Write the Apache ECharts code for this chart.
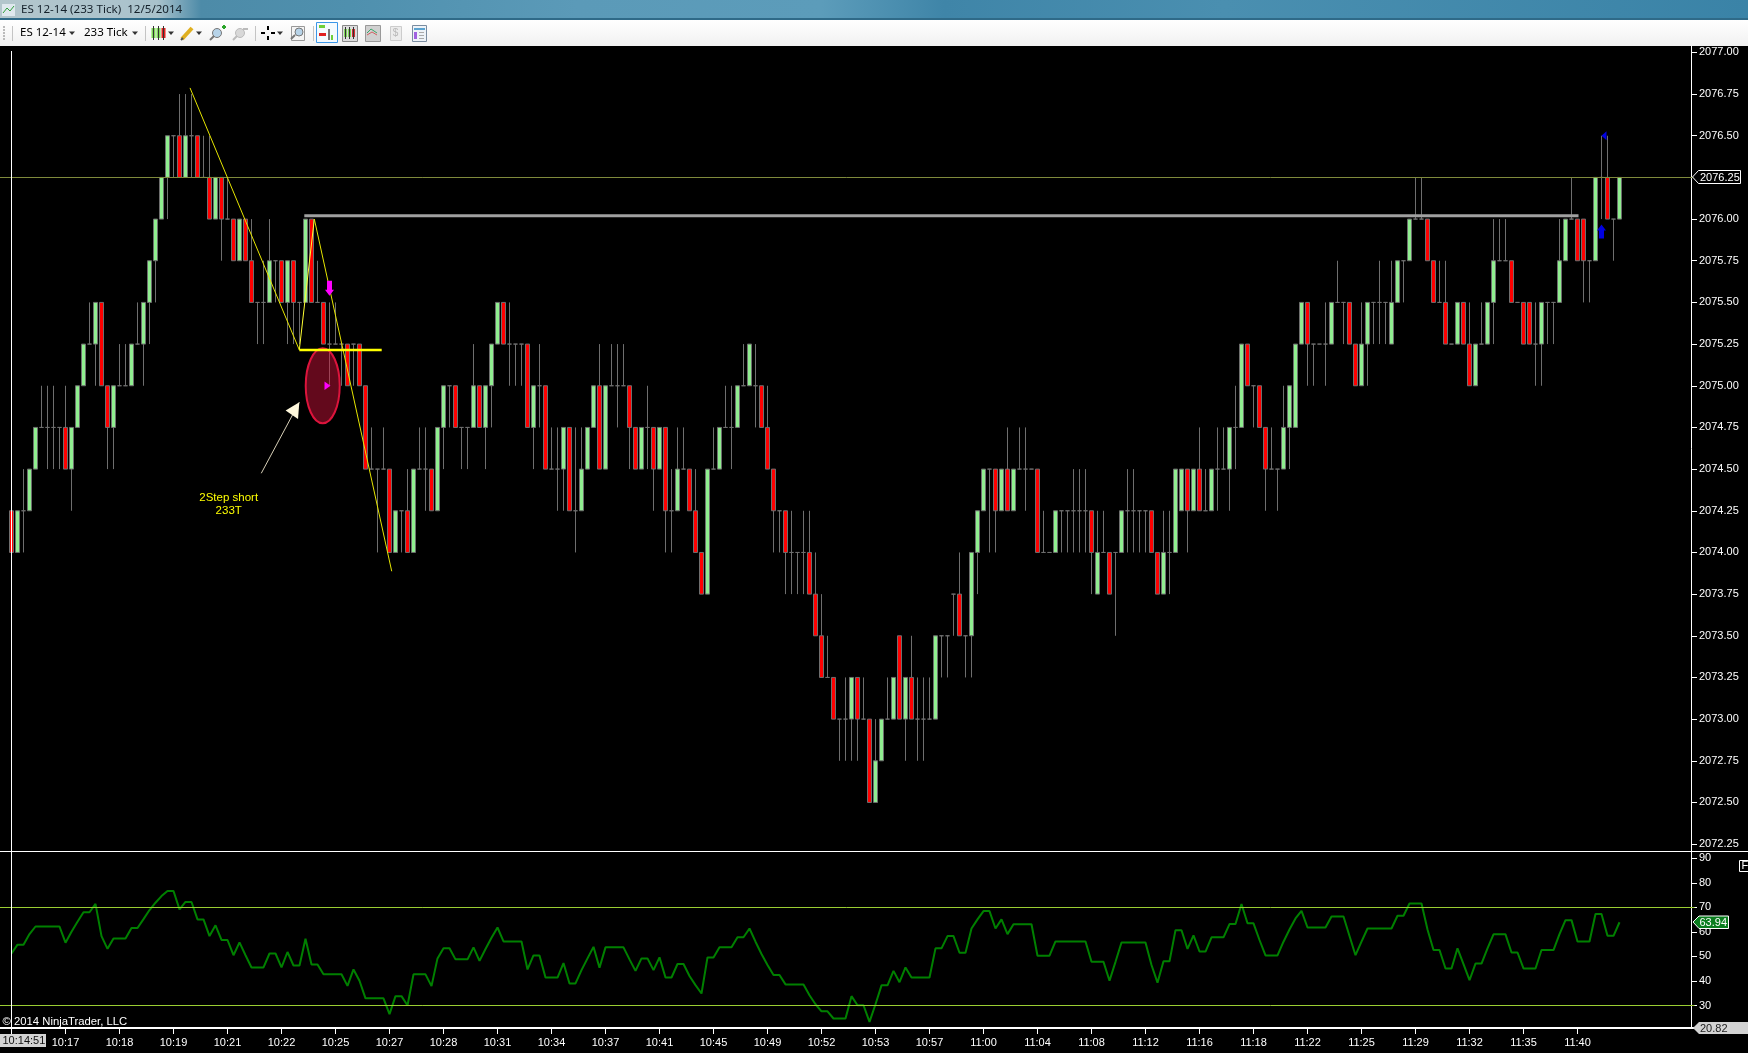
<!DOCTYPE html>
<html>
<head>
<meta charset="utf-8">
<style>html,body{margin:0;padding:0;background:#000;overflow:hidden}#c{width:1748px;height:1053px}</style>
<script src="https://cdn.jsdelivr.net/npm/echarts@6/dist/echarts.min.js"></script>
</head>
<body>
<div id="c"></div>
<script>
// Price is stored as tick levels below the reference price (one tick = 0.25 points).
const referencePrice = 2076, tickSize = 0.25;
const openTicks = [
7,8,7,7,6,5,5,5,5,5, 6,5,4,3,3,2,4,5,4,4, 4,3,3,2,1,0,-1,-2,-2,-1, -2,-2,-1,-1,0,-1,0,0,1,0,
1,2,2,2,1,1,2,1,2,2, 0,2,2,3,3,3,3,3,3,4, 6,6,6,6,8,7,7,8,6,6, 6,7,5,4,4,5,5,5,4,5,
4,3,2,3,3,3,3,5,4,4, 6,6,6,5,7,7,6,5,4,6, 4,4,4,4,5,6,5,5,6,5, 7,7,6,6,7,8,9,6,6,5,
5,5,4,4,4,4,5,6,7,7, 8,8,8,8,9,10,11,11,12,12, 12,11,12,12,14,13,12,12,10,12, 11,12,12,12,12,10,10,9,9,10,
10,8,7,6,6,7,6,7,6,6, 6,6,8,8,8,7,7,7,7,7, 7,9,8,8,8,8,7,7,7,7, 7,8,9,8,8,7,6,7,6,7,
7,6,6,6,5,5,3,4,4,5, 6,6,6,5,5,3,2,3,3,3, 3,2,2,2,3,4,3,2,2,2, 3,2,1,1,0,0,0,1,2,2,
3,3,2,3,4,3,3,2,1,1, 1,2,2,2,3,3,2,2,2,1, 0,0,0,1,1,-1,-1,0,0];
const closeTicks = [
8,7,7,6,5,5,5,5,5,6, 5,4,3,3,2,4,5,4,4,4, 3,3,2,1,0,-1,-2,-2,-1,-2, -2,-1,-1,0,-1,0,0,1,0,1,
2,2,2,1,1,2,1,2,2,0, 2,2,3,3,3,3,4,3,4,6, 6,6,6,8,7,7,8,6,6,6, 7,5,4,4,5,5,5,4,5,4,
3,2,3,3,3,3,5,4,4,6, 6,6,5,7,7,6,5,4,6,4, 4,4,4,5,6,5,5,6,5,7, 7,6,6,7,8,9,6,6,5,5,
5,4,4,3,4,5,6,7,7,8, 8,8,8,9,10,11,11,12,12,12, 11,12,12,14,13,12,12,11,12,11, 12,12,12,12,10,10,10,9,10,10,
8,7,6,6,7,6,7,6,6,6, 6,8,8,8,7,7,7,7,7,7, 8,8,8,9,8,7,7,7,7,7, 8,9,8,8,6,6,7,6,7,7,
6,6,6,5,5,3,4,4,5,6, 6,6,5,4,3,2,3,3,3,3, 2,2,2,3,4,3,2,2,2,2, 2,1,1,0,0,0,1,2,2,3,
3,2,3,4,3,3,2,1,1,1, 2,2,3,3,3,2,2,2,1,0, 0,1,1,1,-1,-1,0,0,-1];
const lowTicks = [
8,8,8,7,6,5,6,6,6,6, 7,5,4,3,4,4,6,6,4,4, 4,3,4,3,2,0,0,-1,-1,-1, -1,-1,-1,0,0,1,0,1,1,1,
2,3,3,2,2,2,3,3,3,2, 2,2,3,4,3,4,4,4,4,6, 6,8,6,8,8,8,8,8,6,7, 7,7,6,5,5,6,6,5,5,6,
5,3,3,4,4,4,5,6,5,6, 6,7,7,7,8,7,6,5,6,6, 4,5,4,6,6,6,6,7,6,8, 8,7,6,7,8,9,9,6,6,5,
6,5,4,4,5,5,6,8,8,9, 9,9,9,9,10,11,11,12,13,13, 13,13,12,14,14,13,12,12,12,13, 12,13,13,12,12,11,11,10,10,11,
11,9,7,8,8,7,7,7,6,7, 6,8,8,8,8,8,8,8,8,8, 9,9,8,9,10,8,8,8,8,8, 8,9,9,9,8,7,8,7,7,7,
7,7,6,7,6,5,4,5,5,7, 6,7,6,6,5,3,4,4,3,4, 3,2,3,3,4,4,4,3,3,3, 3,2,2,1,0,0,1,2,2,3,
3,3,3,4,4,3,3,3,1,1, 2,2,3,3,4,4,3,3,2,1, 0,1,2,2,1,0,0,1,0];
const highTicks = [
7,7,6,6,5,4,4,4,5,4, 5,4,3,2,2,2,4,4,3,3, 3,2,2,1,0,-1,-2,-2,-3,-3, -3,-2,-2,-2,-1,-1,-1,0,0,0,
0,2,1,0,1,1,1,1,2,0, 0,1,2,2,2,3,3,3,3,4, 5,6,5,6,7,7,6,6,5,5, 6,5,4,4,4,5,5,3,4,4,
3,2,2,2,3,3,3,4,3,4, 5,5,5,5,5,5,5,4,3,4, 3,3,3,4,5,5,4,5,5,5, 6,5,5,6,6,8,6,5,5,4,
4,4,3,3,3,4,4,6,7,7, 7,8,7,7,8,9,10,11,12,11, 11,11,11,12,12,12,11,11,10,11, 10,11,11,11,10,10,10,9,8,10,
8,7,6,6,6,6,5,6,5,5, 6,6,7,8,7,7,7,6,6,6, 7,7,7,8,8,7,6,6,7,7, 7,8,7,7,6,6,6,6,5,6,
6,5,5,5,4,3,3,4,4,5, 5,6,4,4,3,2,2,3,3,2, 2,1,2,2,3,2,2,2,1,2, 1,1,1,0,-1,-1,0,1,1,1,
3,2,2,2,3,2,2,0,0,0, 1,2,2,2,2,2,2,2,0,0, -1,0,0,1,-1,-2,-2,0,-1];
const rsiValues = [
51.2,54.8,54.8,59.1,62.2,62.2,62.2,62.2,62.2,55.6, 60.1,64.1,68.0,68.0,71.4,58.3,53.1,57.3,57.3,57.3,
61.6,61.6,65.2,68.9,71.9,74.6,76.7,76.7,69.2,72.2, 72.2,65.1,65.1,58.3,62.7,56.7,56.7,50.5,55.7,50.5,
45.5,45.5,45.5,51.2,51.2,45.5,51.8,46.3,46.3,57.2, 46.7,46.7,42.7,42.7,42.7,42.7,38.0,44.7,40.1,32.9,
32.9,32.9,32.9,26.5,33.8,33.8,30.0,42.7,42.7,42.7, 37.9,49.2,53.3,53.3,48.8,48.8,48.8,53.7,48.2,53.0,
57.6,61.8,56.1,56.1,56.1,56.1,44.7,50.4,50.4,41.4, 41.4,41.4,47.3,39.0,39.0,44.4,49.2,53.9,45.4,53.7,
53.7,53.7,53.7,48.8,44.1,49.2,49.2,44.4,49.6,41.4, 41.4,46.9,46.9,42.0,38.3,34.9,49.6,49.6,53.7,53.7,
53.7,57.8,57.8,61.4,56.0,51.0,46.5,42.4,42.4,38.6, 38.6,38.6,38.6,34.2,30.5,27.6,27.6,24.7,24.7,24.7,
33.8,30.1,30.1,23.3,30.5,38.2,38.2,44.1,39.5,45.5, 41.4,41.4,41.4,41.4,53.3,53.3,58.3,58.3,51.5,51.5,
61.4,65.1,68.5,68.5,61.4,65.1,59.1,63.1,63.1,63.1, 63.1,50.3,50.3,50.3,56.1,56.1,56.1,56.1,56.1,56.1,
47.8,47.8,47.8,40.1,47.8,55.7,55.7,55.7,55.7,55.7, 46.5,39.3,48.0,48.0,60.7,60.7,53.1,58.6,52.0,52.0,
57.8,57.8,57.8,63.2,63.2,71.4,63.5,63.5,56.7,50.4, 50.4,50.4,56.0,61.0,65.5,68.6,61.8,61.8,61.8,61.8,
66.3,66.3,66.3,58.3,50.5,56.0,61.4,61.4,61.4,61.4, 61.4,66.6,66.6,71.6,71.6,71.6,61.0,52.6,52.6,45.1,
45.1,53.3,46.9,40.3,47.1,47.1,53.3,59.0,59.0,59.0, 51.6,51.6,45.1,45.1,45.1,52.6,52.6,52.6,59.1,64.8,
64.8,56.1,56.1,56.1,67.3,67.3,58.4,58.4,63.94];
const timeLabels = ['','10:17','10:18','10:19','10:21','10:22','10:25','10:27','10:28','10:31','10:34','10:37','10:41','10:45','10:49','10:52','10:53','10:57','11:00','11:04','11:08','11:12','11:16','11:18','11:22','11:25','11:29','11:32','11:35','11:40'];
const priceTicks = [2072.25,2072.5,2072.75,2073,2073.25,2073.5,2073.75,2074,2074.25,2074.5,2074.75,2075,2075.25,2075.5,2075.75,2076,2076.25,2076.5,2076.75,2077];
const rsiTicks = [30,40,50,60,70,80,90];
const rsiLevels = [70,30];
const lastPrice = 2076.25;
const lastRsi = 63.94, minRsi = 20.82;
const labelsEvery = 9, leadSlots = 2, tailSlots = 12;

// Drawn annotations, as [bar index, price]
const trendDown1 = [[29.75,2076.787],[47.97,2075.215]];
const trendUp = [[47.97,2075.215],[50.47,2076.0]];
const trendDown2 = [[50.47,2076.0],[63.37,2073.887]];
const entryLine = [[47.97,2075.215],[61.7,2075.215]];
const resistanceLine = [[48.8,2076.02],[261.17,2076.02]];
const ellipseCenter = [51.87,2075.0];
const noteArrow = [[41.63,2074.475],[47.97,2074.901]];
const notePos = [36.2,2074.289];
const sellArrowTip = [53,2075.54];
const buyArrowTip = [265,2075.967];
const sellEntry = [53,2075.0];
const buyExit = [265,2076.5];

const price = k => referencePrice - k * tickSize;
const barCount = openTicks.length;
const slots = leadSlots + barCount + tailSlots;
const categories = new Array(slots).fill('');
timeLabels.forEach((t, n) => { categories[leadSlots + n * labelsEvery] = t === '' ? ' ' : t; });
const pad = (arr, blank) => [...new Array(leadSlots).fill(blank), ...arr, ...new Array(tailSlots).fill(blank)];
const candles = openTicks.map((o, i) => [price(o), price(closeTicks[i]), price(lowTicks[i]), price(highTicks[i])]);
const isLabelled = (idx) => categories[idx] !== '';

const FONT = 'Liberation Sans';
const G = [];
const rect = (x,y,w,h,fill,extra) => G.push(Object.assign({type:'rect',shape:{x,y,width:w,height:h},style:{fill},z:20,silent:true},extra||{}));
const box = (x,y,w,h,stroke,fill) => G.push({type:'rect',shape:{x:x+.5,y:y+.5,width:w,height:h},style:{fill:fill||'none',stroke,lineWidth:1},z:20,silent:true});
const text = (t,x,y,fill,size,fam,align) => G.push({type:'text',x,y,style:{text:t,fill,font:(size||11)+'px "'+(fam||FONT)+'"',textAlign:align||'left',textVerticalAlign:'middle',verticalAlign:'middle'},z:22,silent:true});
const poly = (pts,fill,stroke) => G.push({type:'polygon',shape:{points:pts},style:{fill,stroke:stroke||null,lineWidth:1},z:20,silent:true});
const seg = (x1,y1,x2,y2,stroke,w) => G.push({type:'line',shape:{x1,y1,x2,y2},style:{stroke,lineWidth:w||1},z:21,silent:true});
const tri = (x,y) => poly([[x-3,y-1.5],[x+3,y-1.5],[x,y+2]],'#333');

// title bar
rect(0,0,1748,18,new echarts.graphic.LinearGradient(0,0,1,0,[
 {offset:0,color:'#b3c6cc'},{offset:.09,color:'#a9c2cc'},{offset:.115,color:'#4d8ba8'},{offset:.2,color:'#4f90ae'},
 {offset:.33,color:'#5b9ab8'},{offset:.47,color:'#5c9cba'},{offset:.54,color:'#3f85a8'},{offset:.7,color:'#4a8fb0'},{offset:1,color:'#3a83a7'}]));
rect(0,18,1748,2,'#2f6a88');
rect(0,20,1748,26,new echarts.graphic.LinearGradient(0,0,0,1,[{offset:0,color:'#ffffff'},{offset:1,color:'#f1f1f1'}]));
rect(2,4,13,12,'#dfe8ee');
seg(3,13,7,8,'#2e9e3a');seg(7,8,10,11,'#2e9e3a');seg(10,11,14,6,'#2e9e3a');
text('ES 12-14 (233 Tick)  12/5/2014',21,10,'#14202a',11.6,'Noto Sans');
// toolbar
[26,29,32,35,38].forEach(y=>rect(3,y,2,2,'#bbbbbb'));
[12.5,145.5,255.5,313.5].forEach(x=>seg(x,26,x,41,'#c4c4c4'));
text('ES 12-14',20,33,'#000',11.5,'Noto Sans');
text('233 Tick',84,33,'#000',11.5,'Noto Sans');
[72,135,171,199,280].forEach(x=>tri(x,33));
// candles icon
seg(153.5,26,153.5,40,'#333');rect(151.5,28,4,10,'#7ed957');seg(158.5,26,158.5,40,'#333');rect(156.5,28,4,10,'#7ed957');seg(163.5,26,163.5,40,'#333');rect(161.5,28,4,10,'#e02020');
// pencil
seg(182,39,192,28,'#e0b020',4);seg(181,40,183,38,'#555',2);
// magnifiers
G.push({type:'circle',shape:{cx:217,cy:33,r:4.5},style:{fill:'#b7d3e8',stroke:'#777'},z:20,silent:true});seg(210,40,214,36,'#777',2);seg(222,27,226,27,'#2aa52a',2);seg(224,25,224,29,'#2aa52a',2);
G.push({type:'circle',shape:{cx:240,cy:33,r:4.5},style:{fill:'#d8d8d8',stroke:'#bbb'},z:20,silent:true});seg(233,40,237,36,'#bbb',2);seg(243,29,248,29,'#bbb',2);
// crosshair
[[261,33,265,33],[271,33,275,33],[268,26,268,30],[268,36,268,40]].forEach(s=>seg(s[0],s[1],s[2],s[3],'#000',2));
box(291,26,13,14,'#999','#f4f4f4');G.push({type:'circle',shape:{cx:299,cy:32,r:4},style:{fill:'#b7d3e8',stroke:'#777'},z:20,silent:true});seg(291,39,295,35,'#777',2);
// selected tab
box(316,22,21,20,'#3a96e8','#f4fafe');rect(319,25,6,3,'#6ecf3a');rect(319,33,7,3,'#e02020');rect(328,29,2,11,'#777');rect(331,35,2,5,'#6ecf3a');
box(342,25,15,16,'#888','#ddd');[345,349,353].forEach((x,n)=>{seg(x+.5,27,x+.5,39,'#333');rect(x-1,29,3,8,n==1?'#7ed957':(n==0?'#7ed957':'#d03030'));});
box(365,25,15,16,'#999','#d0d0d0');seg(367,33,371,29,'#3aa56a');seg(371,29,377,33,'#3aa56a');seg(367,35,372,32,'#d06060');seg(372,32,377,35,'#d06060');
box(390,26,11,14,'#ccc','#ececec');text('$',395.5,33,'#b8b8b8',10,FONT,'center');
box(412,25,14,16,'#7a8ca0','#eef3f8');rect(414,28,11,2,'#5ba3d0');rect(414,32,3,7,'#a060e0');rect(419,32,5,1,'#aaa');rect(419,35,5,1,'#aaa');rect(419,38,5,1,'#aaa');

// pane lines
rect(0,851,1748,1,'#ffffff');
rect(11,51,1,983,'#ffffff');
// value tags
poly([[1692.5,177],[1698.5,170.5],[1740.5,170.5],[1740.5,183.5],[1698.5,183.5]],'#000','#fff');
text(lastPrice.toFixed(2),1700,177.5,'#fff',11);
poly([[1693,922],[1699,916],[1728.5,916],[1728.5,928.5],[1699,928.5]],'#0a7d1e','#fff');
text(lastRsi.toFixed(2),1699.5,922.5,'#fff',11);
poly([[1693,1028],[1699,1022],[1748,1022],[1748,1034],[1699,1034]],'#d3d3d3');
text(minRsi.toFixed(2),1700,1028.5,'#222',11);
rect(0,1034,46,13,'#d3d3d3');
text('10:14:51',2.5,1041,'#111',11);
box(1739,860,10,11,'#fff','#000');text('F',1741.5,866,'#fff',11);
text('\u00a9 2014 NinjaTrader, LLC',2.5,1022,'#ffffff',11.3);

function renderAnnotations(params, api) {
  const C = p => api.coord(p);
  const line = (pts, stroke, w) => { const a=C(pts[0]), b=C(pts[1]); return {type:'line',shape:{x1:a[0],y1:a[1],x2:b[0],y2:b[1]},style:{stroke,lineWidth:w}}; };
  const shape = (base, off, fill) => ({type:'polygon',shape:{points:off.map(o=>[base[0]+o[0],base[1]+o[1]])},style:{fill}});
  const c = C(ellipseCenter), sell=C(sellArrowTip), buy=C(buyArrowTip), sellE=C(sellEntry), buyE=C(buyExit), tip=C(noteArrow[1]), nt=C(notePos);
  return {type:'group',children:[
    {type:'ellipse',shape:{cx:c[0],cy:c[1],rx:17,ry:37.5},style:{fill:'rgba(215,20,60,0.46)',stroke:'#dc143c',lineWidth:2}},
    line(resistanceLine,'#a0a0a0',3),
    line(trendDown1,'#e6e600',1),
    line(trendUp,'#ffff33',1),
    line(trendDown2,'#e6e600',1),
    line(entryLine,'#ffff00',2.5),
    line(noteArrow,'#d8d0b8',1),
    shape(tip,[[0,0],[-13.7,8.3],[-1.3,16.7]],'#fff8dc'),
    shape(sell,[[0,0],[-4.5,-6],[-2.5,-6],[-2.5,-15],[2.5,-15],[2.5,-6],[4.5,-6]],'#ff00ff'),
    shape(buy,[[0,0],[4.5,6],[2.5,6],[2.5,14],[-2.5,14],[-2.5,6],[-4.5,6]],'#0000e0'),
    shape(sellE,[[1,0],[-5,-4.2],[-5,4.2]],'#ff00ff'),
    shape(buyE,[[0,0],[5,-4.5],[5,4.5]],'#0000e0'),
    {type:'text',style:{text:'2Step short',x:nt[0],y:nt[1]-6.5,fill:'#ffff00',font:'11.5px "'+FONT+'"',textAlign:'center',textVerticalAlign:'middle',verticalAlign:'middle'}},
    {type:'text',style:{text:'233T',x:nt[0],y:nt[1]+6.5,fill:'#ffff00',font:'11.5px "'+FONT+'"',textAlign:'center',textVerticalAlign:'middle',verticalAlign:'middle'}}
  ]};
}

const chart = echarts.init(document.getElementById('c'), null, {renderer:'canvas'});
const band = 6, leftEdge = 8.5 - band * leadSlots;
chart.setOption({
  animation:false,
  backgroundColor:'#000',
  textStyle:{fontFamily:FONT},
  graphic:G,
  grid:[
    {left:leftEdge, top:45.73, width:band*slots, height:805.07, containLabel:false, outerBoundsMode:'none'},
    {left:leftEdge, top:851.3, width:band*slots, height:176.7, containLabel:false, outerBoundsMode:'none'}
  ],
  xAxis:[
    {type:'category',gridIndex:0,data:categories,show:false},
    {type:'category',gridIndex:1,data:categories,boundaryGap:true,
      axisLine:{show:true,lineStyle:{color:'#fff',width:2}},
      axisTick:{show:true,alignWithLabel:true,length:6,interval:isLabelled,lineStyle:{color:'#fff'}},
      axisLabel:{show:true,interval:isLabelled,margin:9,color:'#fff',fontSize:11,fontFamily:FONT}},
    {type:'value',gridIndex:0,show:false,min:-leadSlots-.5,max:barCount+tailSlots-.5}
  ],
  yAxis:[
    {type:'value',gridIndex:0,position:'right',offset:-3.5,min:2072.21,max:2077.04,
      axisLine:{show:true,onZero:false,lineStyle:{color:'#fff'}},
      axisTick:{show:true,length:6,customValues:priceTicks,lineStyle:{color:'#fff'}},
      axisLabel:{show:true,margin:8,padding:[4,0,0,0],customValues:priceTicks,formatter:v=>v.toFixed(2),color:'#fff',fontSize:11,fontFamily:FONT,showMinLabel:true,showMaxLabel:true},
      splitLine:{show:false}},
    {type:'value',gridIndex:1,position:'right',offset:-3.5,min:minRsi,max:92.86,
      axisLine:{show:true,onZero:false,lineStyle:{color:'#fff'}},
      axisTick:{show:true,length:6,customValues:rsiTicks,lineStyle:{color:'#fff'}},
      axisLabel:{show:true,margin:8,padding:[4,0,0,0],customValues:rsiTicks,formatter:v=>String(v),color:'#fff',fontSize:11,fontFamily:FONT},
      splitLine:{show:false}}
  ],
  series:[
    {type:'candlestick',name:'ES 12-14',xAxisIndex:0,yAxisIndex:0,barWidth:4,silent:true,
      data:pad(candles,['-','-','-','-']),
      itemStyle:{color:'#90ee90',color0:'#ff0000',borderColor:'#6e6e6e',borderColor0:'#6e6e6e',borderColorDoji:'#6e6e6e',borderWidth:1},
      markLine:{silent:true,symbol:'none',animation:false,label:{show:false},lineStyle:{color:'#7f8a3c',width:1,type:'solid'},data:[{yAxis:lastPrice}]}},
    {type:'custom',name:'annotations',xAxisIndex:2,yAxisIndex:0,data:[[0,2075]],clip:false,silent:true,renderItem:renderAnnotations,z:5},
    {type:'line',name:'RSI',xAxisIndex:1,yAxisIndex:1,data:pad(rsiValues,null),showSymbol:false,silent:true,
      lineStyle:{color:'#008000',width:2},
      markLine:{silent:true,symbol:'none',animation:false,label:{show:false},lineStyle:{color:'#9acd32',width:1,type:'solid'},data:rsiLevels.map(v=>({yAxis:v}))}}
  ]
});
</script>
</body>
</html>
